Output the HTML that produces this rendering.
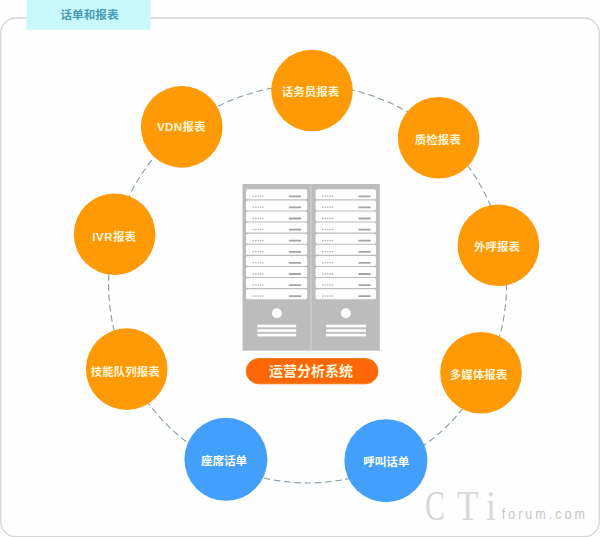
<!DOCTYPE html>
<html lang="zh-CN">
<head>
<meta charset="utf-8">
<title>话单和报表</title>
<style>
html,body{margin:0;padding:0;background:#fefefe;}
body{width:600px;height:537px;overflow:hidden;position:relative;font-family:"Liberation Sans","Noto Sans CJK SC",sans-serif;}
svg{position:absolute;left:0;top:0;display:block;}
text{font-family:"Liberation Sans","Noto Sans CJK SC",sans-serif;}
.lbl text{fill:#fff4d6;font-size:11.5px;font-weight:700;text-anchor:middle;}
.wm text{font-family:"Liberation Serif",serif;fill:#d9d9d9;font-size:42px;}
</style>
</head>
<body>
<svg width="600" height="537" viewBox="0 0 600 537">
  <rect width="600" height="537" fill="#fefefe"/>
  <!-- frame -->
  <rect x="0.7" y="18" width="598.6" height="518.6" rx="15" ry="15" fill="none" stroke="#d6d6d6" stroke-width="1.3"/>
  <!-- title tab -->
  <rect x="26.5" y="0" width="124" height="29.8" fill="#c6f8fc"/>
  <text x="89.5" y="18.7" font-size="11.6" font-weight="700" fill="#4a9ab3" text-anchor="middle">话单和报表</text>

  <!-- dashed ring -->
  <circle cx="307.6" cy="284" r="199" fill="none" stroke="#7f99a6" stroke-width="1.05" stroke-dasharray="6.6 3.7"/>
  <rect x="310" y="184" width="1.4" height="166.7" fill="#d0d0d0"/>

  <!-- servers -->
  <g id="servers">
    <rect x="242.5" y="184" width="67.7" height="166.7" fill="#bdbcbc"/>
    <rect x="246.0" y="189.3" width="61.2" height="10" rx="1.6" fill="#fdfdfd"/>
    <circle cx="253.3" cy="196.2" r="0.8" fill="#b0b0b0"/>
    <circle cx="255.7" cy="196.2" r="0.8" fill="#b0b0b0"/>
    <circle cx="258.1" cy="196.2" r="0.8" fill="#b0b0b0"/>
    <circle cx="260.5" cy="196.2" r="0.8" fill="#b0b0b0"/>
    <circle cx="262.9" cy="196.2" r="0.8" fill="#b0b0b0"/>
    <rect x="288.7" y="195.4" width="12.5" height="1.8" rx="0.9" fill="#a6a6a6"/>
    <rect x="246.0" y="200.4" width="61.2" height="10" rx="1.6" fill="#fdfdfd"/>
    <circle cx="253.3" cy="207.3" r="0.8" fill="#b0b0b0"/>
    <circle cx="255.7" cy="207.3" r="0.8" fill="#b0b0b0"/>
    <circle cx="258.1" cy="207.3" r="0.8" fill="#b0b0b0"/>
    <circle cx="260.5" cy="207.3" r="0.8" fill="#b0b0b0"/>
    <circle cx="262.9" cy="207.3" r="0.8" fill="#b0b0b0"/>
    <rect x="288.7" y="206.5" width="12.5" height="1.8" rx="0.9" fill="#a6a6a6"/>
    <rect x="246.0" y="211.5" width="61.2" height="10" rx="1.6" fill="#fdfdfd"/>
    <circle cx="253.3" cy="218.4" r="0.8" fill="#b0b0b0"/>
    <circle cx="255.7" cy="218.4" r="0.8" fill="#b0b0b0"/>
    <circle cx="258.1" cy="218.4" r="0.8" fill="#b0b0b0"/>
    <circle cx="260.5" cy="218.4" r="0.8" fill="#b0b0b0"/>
    <circle cx="262.9" cy="218.4" r="0.8" fill="#b0b0b0"/>
    <rect x="288.7" y="217.6" width="12.5" height="1.8" rx="0.9" fill="#a6a6a6"/>
    <rect x="246.0" y="222.6" width="61.2" height="10" rx="1.6" fill="#fdfdfd"/>
    <circle cx="253.3" cy="229.5" r="0.8" fill="#b0b0b0"/>
    <circle cx="255.7" cy="229.5" r="0.8" fill="#b0b0b0"/>
    <circle cx="258.1" cy="229.5" r="0.8" fill="#b0b0b0"/>
    <circle cx="260.5" cy="229.5" r="0.8" fill="#b0b0b0"/>
    <circle cx="262.9" cy="229.5" r="0.8" fill="#b0b0b0"/>
    <rect x="288.7" y="228.7" width="12.5" height="1.8" rx="0.9" fill="#a6a6a6"/>
    <rect x="246.0" y="233.7" width="61.2" height="10" rx="1.6" fill="#fdfdfd"/>
    <circle cx="253.3" cy="240.6" r="0.8" fill="#b0b0b0"/>
    <circle cx="255.7" cy="240.6" r="0.8" fill="#b0b0b0"/>
    <circle cx="258.1" cy="240.6" r="0.8" fill="#b0b0b0"/>
    <circle cx="260.5" cy="240.6" r="0.8" fill="#b0b0b0"/>
    <circle cx="262.9" cy="240.6" r="0.8" fill="#b0b0b0"/>
    <rect x="288.7" y="239.8" width="12.5" height="1.8" rx="0.9" fill="#a6a6a6"/>
    <rect x="246.0" y="244.8" width="61.2" height="10" rx="1.6" fill="#fdfdfd"/>
    <circle cx="253.3" cy="251.7" r="0.8" fill="#b0b0b0"/>
    <circle cx="255.7" cy="251.7" r="0.8" fill="#b0b0b0"/>
    <circle cx="258.1" cy="251.7" r="0.8" fill="#b0b0b0"/>
    <circle cx="260.5" cy="251.7" r="0.8" fill="#b0b0b0"/>
    <circle cx="262.9" cy="251.7" r="0.8" fill="#b0b0b0"/>
    <rect x="288.7" y="250.9" width="12.5" height="1.8" rx="0.9" fill="#a6a6a6"/>
    <rect x="246.0" y="255.9" width="61.2" height="10" rx="1.6" fill="#fdfdfd"/>
    <circle cx="253.3" cy="262.8" r="0.8" fill="#b0b0b0"/>
    <circle cx="255.7" cy="262.8" r="0.8" fill="#b0b0b0"/>
    <circle cx="258.1" cy="262.8" r="0.8" fill="#b0b0b0"/>
    <circle cx="260.5" cy="262.8" r="0.8" fill="#b0b0b0"/>
    <circle cx="262.9" cy="262.8" r="0.8" fill="#b0b0b0"/>
    <rect x="288.7" y="262.0" width="12.5" height="1.8" rx="0.9" fill="#a6a6a6"/>
    <rect x="246.0" y="267.0" width="61.2" height="10" rx="1.6" fill="#fdfdfd"/>
    <circle cx="253.3" cy="273.9" r="0.8" fill="#b0b0b0"/>
    <circle cx="255.7" cy="273.9" r="0.8" fill="#b0b0b0"/>
    <circle cx="258.1" cy="273.9" r="0.8" fill="#b0b0b0"/>
    <circle cx="260.5" cy="273.9" r="0.8" fill="#b0b0b0"/>
    <circle cx="262.9" cy="273.9" r="0.8" fill="#b0b0b0"/>
    <rect x="288.7" y="273.1" width="12.5" height="1.8" rx="0.9" fill="#a6a6a6"/>
    <rect x="246.0" y="278.1" width="61.2" height="10" rx="1.6" fill="#fdfdfd"/>
    <circle cx="253.3" cy="285.0" r="0.8" fill="#b0b0b0"/>
    <circle cx="255.7" cy="285.0" r="0.8" fill="#b0b0b0"/>
    <circle cx="258.1" cy="285.0" r="0.8" fill="#b0b0b0"/>
    <circle cx="260.5" cy="285.0" r="0.8" fill="#b0b0b0"/>
    <circle cx="262.9" cy="285.0" r="0.8" fill="#b0b0b0"/>
    <rect x="288.7" y="284.2" width="12.5" height="1.8" rx="0.9" fill="#a6a6a6"/>
    <rect x="246.0" y="289.2" width="61.2" height="10" rx="1.6" fill="#fdfdfd"/>
    <circle cx="253.3" cy="296.1" r="0.8" fill="#b0b0b0"/>
    <circle cx="255.7" cy="296.1" r="0.8" fill="#b0b0b0"/>
    <circle cx="258.1" cy="296.1" r="0.8" fill="#b0b0b0"/>
    <circle cx="260.5" cy="296.1" r="0.8" fill="#b0b0b0"/>
    <circle cx="262.9" cy="296.1" r="0.8" fill="#b0b0b0"/>
    <rect x="288.7" y="295.3" width="12.5" height="1.8" rx="0.9" fill="#a6a6a6"/>
    <circle cx="276.9" cy="313.3" r="5" fill="#fdfdfd"/>
    <rect x="257.3" y="324.7" width="38.9" height="2.6" fill="#fdfdfd"/>
    <rect x="257.3" y="329.3" width="38.9" height="2.6" fill="#fdfdfd"/>
    <rect x="257.3" y="333.8" width="38.9" height="2.6" fill="#fdfdfd"/>
    <rect x="311.2" y="184" width="68.6" height="166.7" fill="#bdbcbc"/>
    <rect x="315.6" y="189.3" width="60.4" height="10" rx="1.6" fill="#fdfdfd"/>
    <circle cx="322.9" cy="196.2" r="0.8" fill="#b0b0b0"/>
    <circle cx="325.3" cy="196.2" r="0.8" fill="#b0b0b0"/>
    <circle cx="327.7" cy="196.2" r="0.8" fill="#b0b0b0"/>
    <circle cx="330.1" cy="196.2" r="0.8" fill="#b0b0b0"/>
    <circle cx="332.5" cy="196.2" r="0.8" fill="#b0b0b0"/>
    <rect x="358.3" y="195.4" width="12.5" height="1.8" rx="0.9" fill="#a6a6a6"/>
    <rect x="315.6" y="200.4" width="60.4" height="10" rx="1.6" fill="#fdfdfd"/>
    <circle cx="322.9" cy="207.3" r="0.8" fill="#b0b0b0"/>
    <circle cx="325.3" cy="207.3" r="0.8" fill="#b0b0b0"/>
    <circle cx="327.7" cy="207.3" r="0.8" fill="#b0b0b0"/>
    <circle cx="330.1" cy="207.3" r="0.8" fill="#b0b0b0"/>
    <circle cx="332.5" cy="207.3" r="0.8" fill="#b0b0b0"/>
    <rect x="358.3" y="206.5" width="12.5" height="1.8" rx="0.9" fill="#a6a6a6"/>
    <rect x="315.6" y="211.5" width="60.4" height="10" rx="1.6" fill="#fdfdfd"/>
    <circle cx="322.9" cy="218.4" r="0.8" fill="#b0b0b0"/>
    <circle cx="325.3" cy="218.4" r="0.8" fill="#b0b0b0"/>
    <circle cx="327.7" cy="218.4" r="0.8" fill="#b0b0b0"/>
    <circle cx="330.1" cy="218.4" r="0.8" fill="#b0b0b0"/>
    <circle cx="332.5" cy="218.4" r="0.8" fill="#b0b0b0"/>
    <rect x="358.3" y="217.6" width="12.5" height="1.8" rx="0.9" fill="#a6a6a6"/>
    <rect x="315.6" y="222.6" width="60.4" height="10" rx="1.6" fill="#fdfdfd"/>
    <circle cx="322.9" cy="229.5" r="0.8" fill="#b0b0b0"/>
    <circle cx="325.3" cy="229.5" r="0.8" fill="#b0b0b0"/>
    <circle cx="327.7" cy="229.5" r="0.8" fill="#b0b0b0"/>
    <circle cx="330.1" cy="229.5" r="0.8" fill="#b0b0b0"/>
    <circle cx="332.5" cy="229.5" r="0.8" fill="#b0b0b0"/>
    <rect x="358.3" y="228.7" width="12.5" height="1.8" rx="0.9" fill="#a6a6a6"/>
    <rect x="315.6" y="233.7" width="60.4" height="10" rx="1.6" fill="#fdfdfd"/>
    <circle cx="322.9" cy="240.6" r="0.8" fill="#b0b0b0"/>
    <circle cx="325.3" cy="240.6" r="0.8" fill="#b0b0b0"/>
    <circle cx="327.7" cy="240.6" r="0.8" fill="#b0b0b0"/>
    <circle cx="330.1" cy="240.6" r="0.8" fill="#b0b0b0"/>
    <circle cx="332.5" cy="240.6" r="0.8" fill="#b0b0b0"/>
    <rect x="358.3" y="239.8" width="12.5" height="1.8" rx="0.9" fill="#a6a6a6"/>
    <rect x="315.6" y="244.8" width="60.4" height="10" rx="1.6" fill="#fdfdfd"/>
    <circle cx="322.9" cy="251.7" r="0.8" fill="#b0b0b0"/>
    <circle cx="325.3" cy="251.7" r="0.8" fill="#b0b0b0"/>
    <circle cx="327.7" cy="251.7" r="0.8" fill="#b0b0b0"/>
    <circle cx="330.1" cy="251.7" r="0.8" fill="#b0b0b0"/>
    <circle cx="332.5" cy="251.7" r="0.8" fill="#b0b0b0"/>
    <rect x="358.3" y="250.9" width="12.5" height="1.8" rx="0.9" fill="#a6a6a6"/>
    <rect x="315.6" y="255.9" width="60.4" height="10" rx="1.6" fill="#fdfdfd"/>
    <circle cx="322.9" cy="262.8" r="0.8" fill="#b0b0b0"/>
    <circle cx="325.3" cy="262.8" r="0.8" fill="#b0b0b0"/>
    <circle cx="327.7" cy="262.8" r="0.8" fill="#b0b0b0"/>
    <circle cx="330.1" cy="262.8" r="0.8" fill="#b0b0b0"/>
    <circle cx="332.5" cy="262.8" r="0.8" fill="#b0b0b0"/>
    <rect x="358.3" y="262.0" width="12.5" height="1.8" rx="0.9" fill="#a6a6a6"/>
    <rect x="315.6" y="267.0" width="60.4" height="10" rx="1.6" fill="#fdfdfd"/>
    <circle cx="322.9" cy="273.9" r="0.8" fill="#b0b0b0"/>
    <circle cx="325.3" cy="273.9" r="0.8" fill="#b0b0b0"/>
    <circle cx="327.7" cy="273.9" r="0.8" fill="#b0b0b0"/>
    <circle cx="330.1" cy="273.9" r="0.8" fill="#b0b0b0"/>
    <circle cx="332.5" cy="273.9" r="0.8" fill="#b0b0b0"/>
    <rect x="358.3" y="273.1" width="12.5" height="1.8" rx="0.9" fill="#a6a6a6"/>
    <rect x="315.6" y="278.1" width="60.4" height="10" rx="1.6" fill="#fdfdfd"/>
    <circle cx="322.9" cy="285.0" r="0.8" fill="#b0b0b0"/>
    <circle cx="325.3" cy="285.0" r="0.8" fill="#b0b0b0"/>
    <circle cx="327.7" cy="285.0" r="0.8" fill="#b0b0b0"/>
    <circle cx="330.1" cy="285.0" r="0.8" fill="#b0b0b0"/>
    <circle cx="332.5" cy="285.0" r="0.8" fill="#b0b0b0"/>
    <rect x="358.3" y="284.2" width="12.5" height="1.8" rx="0.9" fill="#a6a6a6"/>
    <rect x="315.6" y="289.2" width="60.4" height="10" rx="1.6" fill="#fdfdfd"/>
    <circle cx="322.9" cy="296.1" r="0.8" fill="#b0b0b0"/>
    <circle cx="325.3" cy="296.1" r="0.8" fill="#b0b0b0"/>
    <circle cx="327.7" cy="296.1" r="0.8" fill="#b0b0b0"/>
    <circle cx="330.1" cy="296.1" r="0.8" fill="#b0b0b0"/>
    <circle cx="332.5" cy="296.1" r="0.8" fill="#b0b0b0"/>
    <rect x="358.3" y="295.3" width="12.5" height="1.8" rx="0.9" fill="#a6a6a6"/>
    <circle cx="345.8" cy="313.3" r="5" fill="#fdfdfd"/>
    <rect x="326.0" y="324.7" width="40.0" height="2.6" fill="#fdfdfd"/>
    <rect x="326.0" y="329.3" width="40.0" height="2.6" fill="#fdfdfd"/>
    <rect x="326.0" y="333.8" width="40.0" height="2.6" fill="#fdfdfd"/>
  </g>

  <!-- center label -->
  <rect x="246.2" y="358.6" width="131.8" height="25.2" rx="12.6" fill="#fe6707" stroke="#ee7a12" stroke-width="1"/>
  <text x="311.1" y="376.1" font-size="14" font-weight="700" fill="#fff6da" text-anchor="middle">运营分析系统</text>

  <!-- nodes -->
  <g>
    <circle cx="312.0" cy="90.5" r="40.8" fill="#fe9a06"/>
    <circle cx="181.7" cy="126.9" r="40.8" fill="#fe9a06"/>
    <circle cx="438.6" cy="137.8" r="40.8" fill="#fe9a06"/>
    <circle cx="114.6" cy="234.2" r="40.8" fill="#fe9a06"/>
    <circle cx="498.4" cy="245.3" r="40.8" fill="#fe9a06"/>
    <circle cx="126.7" cy="369.1" r="40.8" fill="#fe9a06"/>
    <circle cx="481.0" cy="372.7" r="40.8" fill="#fe9a06"/>
    <circle cx="225.9" cy="459.3" r="41.5" fill="#42a0fa"/>
    <circle cx="385.9" cy="460.7" r="41.5" fill="#42a0fa"/>
  </g>
  <g class="lbl">
    <text x="310.4" y="96.2">话务员报表</text>
    <text x="181.3" y="130.9"><tspan letter-spacing="0.4">VDN</tspan>报表</text>
    <text x="437.8" y="144.1">质检报表</text>
    <text x="114.2" y="241.4"><tspan letter-spacing="0.5">IVR</tspan>报表</text>
    <text x="497.0" y="251.4">外呼报表</text>
    <text x="125.2" y="375.7">技能队列报表</text>
    <text x="478.6" y="378.9">多媒体报表</text>
    <text x="224.0" y="465.4" style="fill:#ffffff">座席话单</text>
    <text x="386.3" y="465.8" style="fill:#ffffff">呼叫话单</text>
  </g>

  <!-- watermark -->
  <g class="wm">
    <text x="425" y="519.6" textLength="20" lengthAdjust="spacingAndGlyphs">C</text>
    <text x="457" y="519.6" textLength="21.5" lengthAdjust="spacingAndGlyphs">T</text>
    <text x="486" y="519.6" textLength="10" lengthAdjust="spacingAndGlyphs">i</text>
  </g>
  <text transform="translate(501.8,518.8) scale(0.84,1)" font-size="15" fill="#c6c6c6" textLength="99" lengthAdjust="spacing">forum.com</text>
</svg>
</body>
</html>
